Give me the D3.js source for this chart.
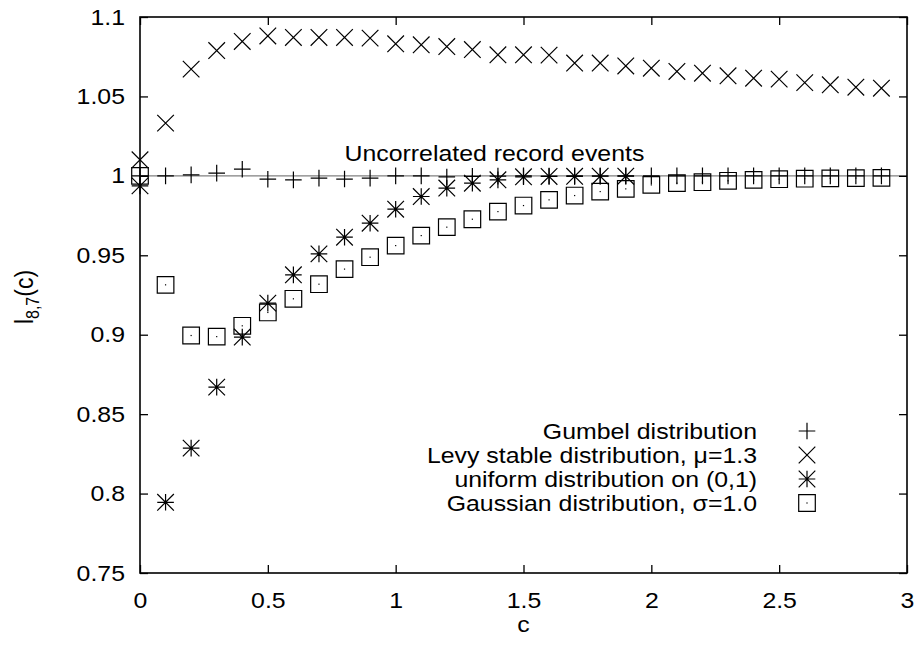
<!DOCTYPE html>
<html><head><meta charset="utf-8">
<script src="https://cdn.jsdelivr.net/npm/d3@7/dist/d3.min.js"></script>
<style>
body{margin:0;background:#fff;}
svg text{font-family:"Liberation Sans",Arial,Helvetica,sans-serif;fill:#000;}
</style></head><body>
<svg id="chart" width="917" height="648"></svg>
<script>
const cValues = [0,0.1,0.2,0.3,0.4,0.5,0.6,0.7,0.8,0.9,1.0,1.1,1.2,1.3,1.4,1.5,1.6,1.7,1.8,1.9,2.0,2.1,2.2,2.3,2.4,2.5,2.6,2.7,2.8,2.9];
const gumbel = [1.0,1.0,1.0006,1.0017,1.0042,0.9979,0.9975,0.9986,0.998,0.9986,1.0,1.0,0.9993,0.9997,0.9998,1.0,0.9999,1.0,0.9999,1.0,1.0,1.0,1.0,1.0,1.0,1.0,1.0,1.0,1.0,1.0];
const levy = [1.0101,1.0332,1.0672,1.0789,1.0846,1.0881,1.0871,1.0871,1.0871,1.0867,1.0831,1.0825,1.0814,1.0795,1.0762,1.0762,1.076,1.071,1.071,1.0692,1.0678,1.0657,1.0646,1.063,1.0615,1.0609,1.0587,1.0573,1.0558,1.0552];
const uniformC = [0,0.1,0.2,0.3,0.4,0.5,0.6,0.7,0.8,0.9,1.0,1.1,1.2,1.3,1.4,1.5,1.6,1.7,1.8,1.9];
const uniform = [0.9937,0.7945,0.8286,0.867,0.8985,0.9199,0.9377,0.9509,0.9614,0.9702,0.979,0.987,0.9923,0.9954,0.9975,0.9994,0.9996,0.9997,0.9998,0.9998];
const gauss = [1.0,0.9314,0.8995,0.8988,0.9056,0.914,0.9226,0.9318,0.9413,0.9488,0.9561,0.9624,0.9677,0.9727,0.9775,0.9813,0.9849,0.9876,0.9901,0.9918,0.9943,0.9954,0.996,0.9969,0.9975,0.9979,0.9982,0.9984,0.9986,0.9987];
const xTicks = [0,0.5,1,1.5,2,2.5,3];
const xTickLabels = ["0","0.5","1","1.5","2","2.5","3"];
const yTicks = [0.75,0.8,0.85,0.9,0.95,1,1.05,1.1];
const yTickLabels = ["0.75","0.8","0.85","0.9","0.95","1","1.05","1.1"];
const legendLabels = ["Gumbel distribution","Levy stable distribution, \u03bc=1.3","uniform distribution on (0,1)","Gaussian distribution, \u03c3=1.0"];
const refLabel = "Uncorrelated record events";

const svg = d3.select("#chart");
const L=140, R=907, T=17, B=573;
const x = d3.scaleLinear().domain([0,3]).range([L,R]);
const y = d3.scaleLinear().domain([0.75,1.1]).range([B,T]);
const fs = 22, sx = 1.13;

function addText(px, py, str, anchor){
  return svg.append("text").attr("transform",`translate(${px},${py}) scale(${sx},1)`)
    .attr("text-anchor",anchor||"start").attr("font-size",fs).text(str);
}

// reference line
svg.append("line").attr("x1",x(0)).attr("x2",x(3)).attr("y1",y(1)).attr("y2",y(1))
  .attr("stroke","#808080").attr("stroke-width",1.3);
addText(x(0.8), y(1)-14.5, refLabel);

// axes
const tl = 8;
const gB = svg.append("g").attr("transform",`translate(0,${B})`).call(d3.axisBottom(x).tickValues(xTicks).tickFormat((d,i)=>xTickLabels[i]).tickSizeInner(-tl).tickSizeOuter(0).tickPadding(19));
const gT = svg.append("g").attr("transform",`translate(0,${T})`).call(d3.axisTop(x).tickValues(xTicks).tickFormat("").tickSizeInner(-tl).tickSizeOuter(0));
const gL = svg.append("g").attr("transform",`translate(${L},0)`).call(d3.axisLeft(y).tickValues(yTicks).tickFormat((d,i)=>yTickLabels[i]).tickSizeInner(-tl).tickSizeOuter(0).tickPadding(15));
const gR = svg.append("g").attr("transform",`translate(${R},0)`).call(d3.axisRight(y).tickValues(yTicks).tickFormat("").tickSizeInner(-tl).tickSizeOuter(0));
[gB,gT,gL,gR].forEach(g=>{
  g.select(".domain").remove();
  g.selectAll("line").attr("stroke","#000").attr("stroke-width",1.3);
  g.selectAll("text").attr("font-size",fs).attr("font-family","Liberation Sans, Arial, sans-serif").attr("fill","#000")
    .each(function(){
      const t = d3.select(this);
      const xv = +t.attr("x") || 0;
      t.attr("x", xv/sx).attr("transform",`scale(${sx},1)`);
    });
});
svg.append("rect").attr("x",L).attr("y",T).attr("width",R-L).attr("height",B-T)
  .attr("fill","none").attr("stroke","#000").attr("stroke-width",1.6);

// axis labels
addText((L+R)/2, 632, "c", "middle");
const yl = svg.append("text").attr("transform",`translate(33,297) scale(${sx},1) rotate(-90)`).attr("text-anchor","middle").attr("font-size",23);
yl.append("tspan").text("l");
yl.append("tspan").attr("font-size",16).attr("dy",5).text("8,7");
yl.append("tspan").attr("dy",-5).text("(c)");

// marker paths
const s = 8.3;
const sym = {
  plus: `M${-s},0H${s}M0,${-s}V${s}`,
  cross: `M${-s},${-s}L${s},${s}M${-s},${s}L${s},${-s}`,
  star: `M${-s},0H${s}M0,${-s}V${s}M${-s},${-s}L${s},${s}M${-s},${s}L${s},${-s}`,
  box: `M${-s},${-s}H${s}V${s}H${-s}Z`
};
function drawMarks(cs, vs, type){
  const g = svg.append("g");
  const pts = cs.map((c,i)=>[c,vs[i]]);
  g.selectAll("path").data(pts).enter().append("path")
    .attr("transform",d=>`translate(${x(d[0])},${y(d[1])})`)
    .attr("d",sym[type]).attr("fill","none").attr("stroke","#000").attr("stroke-width",1.2);
  if(type==="box"){
    g.selectAll("rect.dot").data(pts).enter().append("rect").attr("class","dot")
      .attr("x",d=>x(d[0])-0.6).attr("y",d=>y(d[1])-0.6).attr("width",1.2).attr("height",1.2).attr("fill","#000");
  }
}
drawMarks(cValues, gumbel, "plus");
drawMarks(cValues, levy, "cross");
drawMarks(uniformC, uniform, "star");
drawMarks(cValues, gauss, "box");

// legend
const types = ["plus","cross","star","box"];
legendLabels.forEach((lab,i)=>{
  const yy = 431 + i*24;
  addText(757, yy+8, lab, "end");
  svg.append("path").attr("transform",`translate(807,${yy})`).attr("d",sym[types[i]])
    .attr("fill","none").attr("stroke","#000").attr("stroke-width",1.2);
  if(types[i]==="box") svg.append("rect").attr("x",806.4).attr("y",yy-0.6).attr("width",1.2).attr("height",1.2).attr("fill","#000");
});
</script>
</body></html>
